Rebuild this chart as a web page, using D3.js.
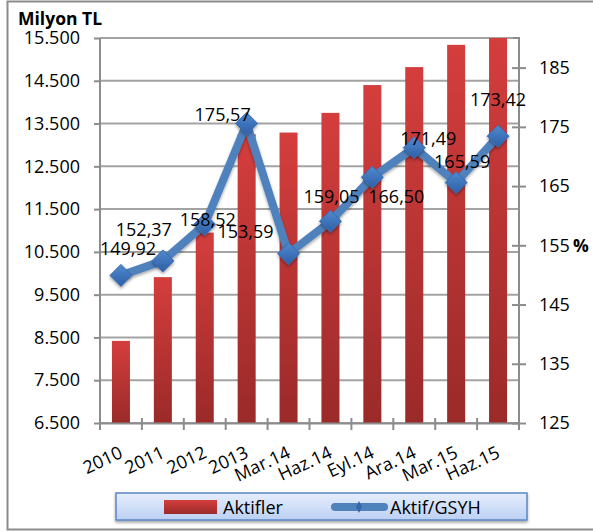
<!DOCTYPE html>
<html><head><meta charset="utf-8">
<script src="https://cdn.jsdelivr.net/npm/d3@7/dist/d3.min.js"></script>
<style>
body{margin:0;background:#fff;}
text{font-family:"Open Sans",sans-serif;}
</style></head>
<body><svg id="c" width="593" height="531"></svg>
<script>
const categories = ["2010","2011","2012","2013","Mar.14","Haz.14","Eyl.14","Ara.14","Mar.15","Haz.15"];
const aktifler = [8420, 9910, 10950, 13250, 13290, 13750, 14400, 14820, 15340, 15500];
const aktifGsyh = [149.92, 152.37, 158.52, 175.57, 153.59, 159.05, 166.50, 171.49, 165.59, 173.42];
const leftTicks = [6500,7500,8500,9500,10500,11500,12500,13500,14500,15500];
const rightTicks = [125,135,145,155,165,175,185];
// manual data label offsets (dx, dy) relative to the point
const labelOffsets = [[7,-20],[-19,-25],[3,2],[-24,-2],[-43,-16],[1,-18],[24,26],[14,-3],[6,-15],[0,-30]];

const svg = d3.select("#c");
const L=100, R=519, T=38, B=423;
const defs = svg.append("defs");
const bg = defs.append("linearGradient").attr("id","barg").attr("x1",0).attr("y1",0).attr("x2",0).attr("y2",1);
bg.append("stop").attr("offset","0%").attr("stop-color","#d43e3d");
bg.append("stop").attr("offset","100%").attr("stop-color","#9a2a29");
const mg = defs.append("linearGradient").attr("id","mkg").attr("x1",0).attr("y1",0).attr("x2",0).attr("y2",1);
mg.append("stop").attr("offset","0%").attr("stop-color","#5089cf");
mg.append("stop").attr("offset","100%").attr("stop-color","#2d5fa6");
const lg = defs.append("linearGradient").attr("id","leg").attr("x1",0).attr("y1",0).attr("x2",0).attr("y2",1);
lg.append("stop").attr("offset","0%").attr("stop-color","#e6eefc");
lg.append("stop").attr("offset","100%").attr("stop-color","#bcd0f3");
const sh = defs.append("filter").attr("id","sh").attr("x","-20%").attr("y","-20%").attr("width","140%").attr("height","160%");
sh.append("feDropShadow").attr("dx",0).attr("dy",2).attr("stdDeviation",1.5).attr("flood-color","#000").attr("flood-opacity",0.35);

// chart border
svg.append("path").attr("d","M600,1.5 H7.5 V529.5 H600").attr("fill","none").attr("stroke","#8c8c8c").attr("stroke-width",2);

const x = d3.scaleBand().domain(categories).range([L,R]).paddingInner(0.57).paddingOuter(0.285);
const xb = d3.scaleBand().domain(categories).range([L,R]);
const yL = d3.scaleLinear().domain([6500,15500]).range([B,T]);
const yR = d3.scaleLinear().domain([125,190]).range([B,T]);

// gridlines
svg.append("g").selectAll("line").data(leftTicks).join("line")
  .attr("x1",L).attr("x2",R).attr("y1",d=>yL(d)).attr("y2",d=>yL(d))
  .attr("stroke","#a3a3a3").attr("stroke-width",2);

// bars
svg.append("g").selectAll("rect").data(aktifler).join("rect")
  .attr("x",(d,i)=>x(categories[i])).attr("width",x.bandwidth())
  .attr("y",d=>yL(d)).attr("height",d=>B-yL(d)).attr("fill","url(#barg)");

// axes
const fmtL = d=>d3.format(",")(d).replace(/,/g,".");
const gl = svg.append("g").attr("transform",`translate(${L},0)`)
  .call(d3.axisLeft(yL).tickValues(leftTicks).tickFormat(fmtL).tickSize(6).tickPadding(14));
const gr = svg.append("g").attr("transform",`translate(${R},0)`)
  .call(d3.axisRight(yR).tickValues(rightTicks).tickSize(7).tickPadding(13));
gr.selectAll(".tick line").attr("x1",-7);
const gx = svg.append("g").attr("transform",`translate(0,${B})`)
  .call(d3.axisBottom(xb).tickValues([]).tickSizeOuter(0));
gx.selectAll(".tick").remove();
// category boundary ticks
svg.append("g").selectAll("line").data(d3.range(categories.length+1)).join("line")
  .attr("x1",i=>L+i*xb.step()).attr("x2",i=>L+i*xb.step()).attr("y1",B-5).attr("y2",B+7)
  .attr("stroke","#8c8c8c").attr("stroke-width",2);
[gl,gr,gx].forEach(g=>{
  g.select(".domain").attr("stroke","#8c8c8c").attr("stroke-width",2);
  g.selectAll(".tick line").attr("stroke","#8c8c8c").attr("stroke-width",2);
  g.selectAll(".tick text").attr("fill","#000").attr("font-size",18).attr("font-family","Open Sans");
});
gl.select(".domain").attr("d",`M0,${B+0.5}V${T}`);
gr.select(".domain").attr("d",`M-6,${T}H0V${B}`);

// x labels
svg.append("g").selectAll("text").data(categories).join("text")
  .attr("transform",d=>`translate(${xb(d)+xb.bandwidth()/2+3},457) rotate(-25)`)
  .attr("text-anchor","end").attr("font-size",18).text(d=>d);

// line
const cx = i=>xb(categories[i])+xb.bandwidth()/2;
const line = d3.line().x((d,i)=>cx(i)).y(d=>yR(d));
svg.append("path").datum(aktifGsyh).attr("d",line).attr("fill","none")
  .attr("stroke","#4f81bd").attr("stroke-width",8).attr("stroke-linejoin","round").attr("filter","url(#sh)");
svg.append("g").selectAll("path").data(aktifGsyh).join("path")
  .attr("d","M0,-11 L11,0 L0,11 L-11,0 Z")
  .attr("transform",(d,i)=>`translate(${cx(i)},${yR(d)})`)
  .attr("fill","url(#mkg)").attr("stroke","#3b6db3").attr("stroke-width",1).attr("filter","url(#sh)");

// data labels
const fmtV = d=>d.toFixed(2).replace(".",",");
svg.append("g").selectAll("text").data(aktifGsyh).join("text")
  .attr("x",(d,i)=>cx(i)+labelOffsets[i][0]).attr("y",(d,i)=>yR(d)+labelOffsets[i][1])
  .attr("text-anchor","middle").attr("font-size",18).attr("fill","#000").text(fmtV);

// titles
svg.append("text").attr("x",18).attr("y",25).attr("font-size",17.5).attr("font-weight","bold").text("Milyon TL");
svg.append("text").attr("x",573).attr("y",252).attr("font-size",17.5).attr("font-weight","bold").text("%");

// legend
const lgG = svg.append("g");
lgG.append("rect").attr("x",116).attr("y",493).attr("width",411).attr("height",27)
  .attr("fill","url(#leg)").attr("stroke","#5b87c5").attr("stroke-width",1.5).attr("filter","url(#sh)");
lgG.append("rect").attr("x",164).attr("y",500).attr("width",53).attr("height",14).attr("fill","url(#barg)");
lgG.append("text").attr("x",223).attr("y",514).attr("font-size",18).text("Aktifler");
lgG.append("line").attr("x1",335).attr("x2",384).attr("y1",507).attr("y2",507)
  .attr("stroke","#4f81bd").attr("stroke-width",8).attr("stroke-linecap","round");
lgG.append("path").attr("d","M0,-6 L3,0 L0,6 L-3,0 Z").attr("transform","translate(359,507)").attr("fill","#3566ad");
lgG.append("text").attr("x",390).attr("y",514).attr("font-size",18).text("Aktif/GSYH");
</script></body></html>
